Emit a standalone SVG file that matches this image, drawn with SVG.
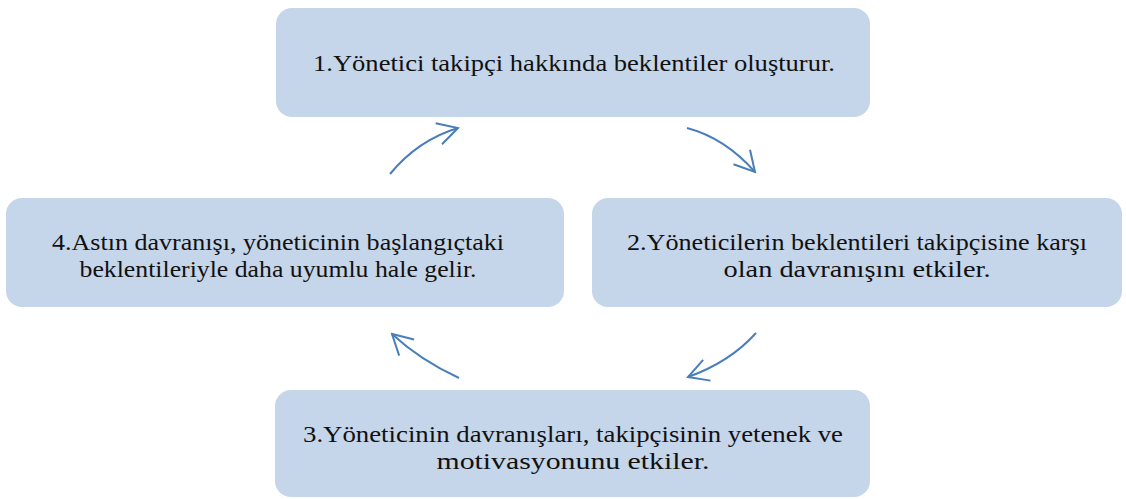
<svg xmlns="http://www.w3.org/2000/svg" width="1126" height="499" viewBox="0 0 1126 499">
<style>
.box{fill:#c5d5ea;}
.t{font-family:'Liberation Serif','Times New Roman',Tinos,Times,serif;font-size:24px;fill:#111;text-anchor:middle;}
.c{fill:none;stroke:#4a7ebb;stroke-width:2;marker-end:url(#ah);}
</style>
<defs>
<marker id="ah" markerWidth="24" markerHeight="24" refX="11" refY="6" orient="auto" markerUnits="userSpaceOnUse" viewBox="0 0 12 12">
<path d="M1,0.5 L11,6 L1,11.5" fill="none" stroke="#4a7ebb" stroke-width="1"/>
</marker>
</defs>
<rect width="1126" height="499" fill="#fff"/>
<g id="connectors">
<path class="c" d="M687,128 Q725,138 755,172"/>
<path class="c" d="M756,333 Q730,362 688,377"/>
<path class="c" d="M459,378 Q420,360 392,334"/>
<path class="c" d="M390,174 Q418,140 458,128"/>
</g>
<g id="node1">
<rect class="box" x="276" y="8" width="594" height="109" rx="16"/>
<text class="t" x="574" y="71" textLength="522" lengthAdjust="spacingAndGlyphs">1.Yönetici takipçi hakkında beklentiler oluşturur.</text>
</g>
<g id="node2">
<rect class="box" x="592" y="198" width="530" height="109" rx="16"/>
<text class="t" x="857" y="250" textLength="460" lengthAdjust="spacingAndGlyphs">2.Yöneticilerin beklentileri takipçisine karşı</text>
<text class="t" x="857" y="277" textLength="267" lengthAdjust="spacingAndGlyphs">olan davranışını etkiler.</text>
</g>
<g id="node3">
<rect class="box" x="275" y="390" width="595" height="107" rx="16"/>
<text class="t" x="573" y="442" textLength="540" lengthAdjust="spacingAndGlyphs">3.Yöneticinin davranışları, takipçisinin yetenek ve</text>
<text class="t" x="573" y="469" textLength="273" lengthAdjust="spacingAndGlyphs">motivasyonunu etkiler.</text>
</g>
<g id="node4">
<rect class="box" x="6" y="198" width="558" height="109" rx="16"/>
<text class="t" x="278" y="250" textLength="452" lengthAdjust="spacingAndGlyphs">4.Astın davranışı, yöneticinin başlangıçtaki</text>
<text class="t" x="278" y="277" textLength="397" lengthAdjust="spacingAndGlyphs">beklentileriyle daha uyumlu hale gelir.</text>
</g>
</svg>
